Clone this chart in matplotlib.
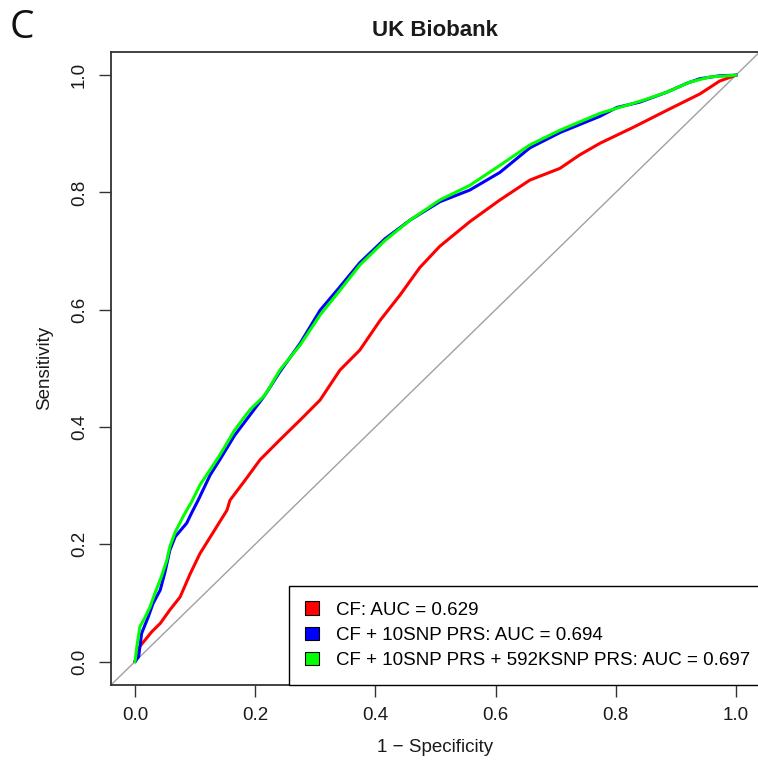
import matplotlib
matplotlib.use("Agg")
import matplotlib.pyplot as plt
from matplotlib.patches import Patch

# ROC curve points (x = 1 - specificity, y = sensitivity)
cf_fpr = [0.0, 0.001, 0.008, 0.017, 0.028, 0.042, 0.058, 0.075, 0.092, 0.108, 0.122, 0.139,
          0.153, 0.158, 0.183, 0.208, 0.241, 0.275, 0.308, 0.341, 0.374, 0.408, 0.441, 0.474,
          0.507, 0.557, 0.607, 0.657, 0.707, 0.740, 0.774, 0.829, 0.885, 0.940, 0.973, 1.0]
cf_tpr = [0.0, 0.0, 0.026, 0.037, 0.051, 0.065, 0.088, 0.110, 0.150, 0.184, 0.207, 0.235,
          0.258, 0.275, 0.309, 0.344, 0.378, 0.412, 0.446, 0.497, 0.531, 0.582, 0.625, 0.672,
          0.708, 0.750, 0.787, 0.821, 0.841, 0.864, 0.884, 0.911, 0.940, 0.968, 0.990, 1.0]

snp10_fpr = [0.0, 0.006, 0.011, 0.022, 0.030, 0.042, 0.050, 0.058, 0.067, 0.086, 0.094,
             0.105, 0.125, 0.141, 0.166, 0.191, 0.216, 0.241, 0.275, 0.308, 0.341, 0.374,
             0.416, 0.458, 0.507, 0.557, 0.607, 0.657, 0.707, 0.774, 0.802, 0.840, 0.885,
             0.918, 0.940, 0.973, 1.0]
snp10_tpr = [0.0, 0.008, 0.048, 0.076, 0.099, 0.122, 0.153, 0.190, 0.213, 0.236, 0.253,
             0.275, 0.318, 0.344, 0.386, 0.420, 0.454, 0.494, 0.543, 0.599, 0.639, 0.680,
             0.721, 0.753, 0.784, 0.804, 0.834, 0.876, 0.902, 0.930, 0.945, 0.954, 0.971,
             0.986, 0.994, 0.999, 1.0]

snp592k_fpr = [0.0, 0.003, 0.008, 0.017, 0.025, 0.033, 0.044, 0.053, 0.058, 0.067, 0.080,
               0.086, 0.094, 0.108, 0.125, 0.141, 0.166, 0.191, 0.216, 0.241, 0.275, 0.308,
               0.341, 0.374, 0.416, 0.458, 0.507, 0.557, 0.607, 0.657, 0.707, 0.774, 0.845,
               0.885, 0.923, 0.957, 1.0]
snp592k_tpr = [0.0, 0.025, 0.059, 0.076, 0.093, 0.116, 0.145, 0.173, 0.196, 0.221, 0.247,
               0.258, 0.272, 0.301, 0.327, 0.352, 0.395, 0.429, 0.454, 0.497, 0.540, 0.591,
               0.633, 0.676, 0.718, 0.753, 0.787, 0.812, 0.846, 0.881, 0.906, 0.935, 0.957,
               0.971, 0.988, 0.997, 1.0]

labels = ["CF: AUC = 0.629",
          "CF + 10SNP PRS: AUC = 0.694",
          "CF + 10SNP PRS + 592KSNP PRS: AUC = 0.697"]
colors = ["#FF0000", "#0000FF", "#00FF00"]
ticks = [0.0, 0.2, 0.4, 0.6, 0.8, 1.0]

plt.rcParams["font.family"] = ["Liberation Sans", "DejaVu Sans"]

fig = plt.figure(figsize=(7.58, 7.65), dpi=100)
ax = fig.add_axes([0.1464, 0.1046, 0.8562, 0.8278])

# chance line
ax.axline((0, 0), (1, 1), color="#A0A0A0", lw=1.0, zorder=1)

ax.plot(cf_fpr, cf_tpr, color=colors[0], lw=2.2, zorder=2)
ax.plot(snp10_fpr, snp10_tpr, color=colors[1], lw=2.2, zorder=3)
ax.plot(snp592k_fpr, snp592k_tpr, color=colors[2], lw=2.2, zorder=4)

ax.set_xlim(-0.04, 1.04)
ax.set_ylim(-0.04, 1.04)
ax.set_xticks(ticks)
ax.set_yticks(ticks)
ax.set_xticklabels([f"{t:.1f}" for t in ticks])
ax.set_yticklabels([f"{t:.1f}" for t in ticks], rotation=90, va="center")
ax.tick_params(axis="both", length=8.5, width=1.0, color="#333333", labelsize=13.5,
               labelcolor="#1a1a1a")
ax.tick_params(axis="x", pad=7)
ax.tick_params(axis="y", pad=8)
for s in ax.spines.values():
    s.set_linewidth(1.3)
    s.set_color("#333333")

handles = [Patch(facecolor=c, edgecolor="black", lw=0.8) for c in colors]
leg = ax.legend(handles, labels, loc="lower right", bbox_to_anchor=(1.009, 0.0),
                borderaxespad=0, fontsize=13.5, frameon=True, fancybox=False,
                edgecolor="black", framealpha=1, handlelength=0.75, handleheight=0.75,
                handletextpad=0.9, labelspacing=0.41, borderpad=0.85)
leg.get_frame().set_linewidth(1.0)

fig.text(0.574, 0.960, "UK Biobank", ha="center", va="center", fontsize=16,
         fontweight="bold", color="#1a1a1a")
fig.text(0.059, 0.519, "Sensitivity", rotation=90, ha="center", va="center",
         fontsize=13.5, color="#1a1a1a")
fig.text(0.574, 0.023, "1 \u2212 Specificity", ha="center", va="center",
         fontsize=13.5, color="#1a1a1a")
fig.text(0.013, 0.964, "C", ha="left", va="center", fontsize=28,
         family=["Open Sans", "DejaVu Sans"], color="#111111")

fig.savefig("out.png", dpi=100)
